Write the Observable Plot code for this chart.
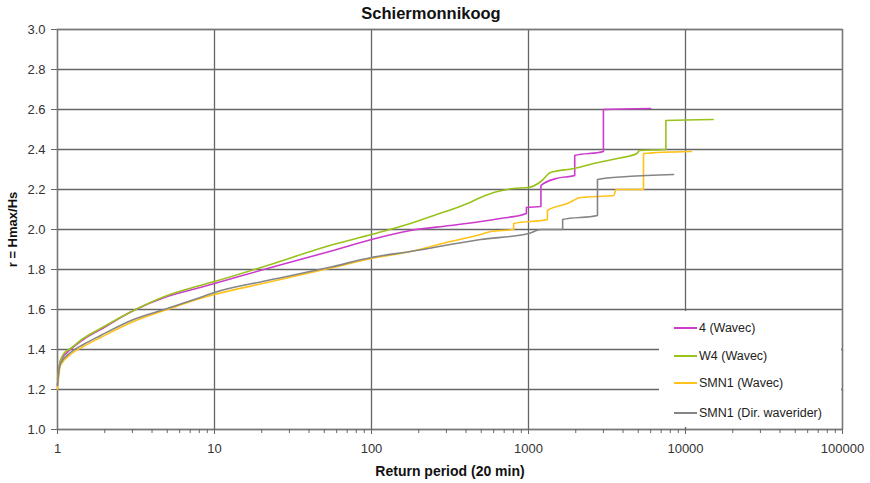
<!DOCTYPE html>
<html>
<head>
<meta charset="utf-8">
<script src="https://cdn.jsdelivr.net/npm/d3@7"></script>
<script src="https://cdn.jsdelivr.net/npm/@observablehq/plot@0.6"></script>
<style>
  body { margin: 0; background: #fff; font-family: "Liberation Sans", Arial, sans-serif; }
  #wrap { position: relative; width: 870px; height: 483px; overflow: hidden; }
  #title { position: absolute; left: 0; top: 0; height: 24px; width: 862px; text-align: center; font-weight: bold; font-size: 16.5px; line-height: 26px; color: #111; z-index: 2; }
  #legend { position: absolute; left: 659px; top: 311px; width: 182px; height: 116px; background: #fff; }
  .item { position: absolute; left: 15px; height: 16px; display: flex; align-items: center; font-size: 12.5px; color: #222; white-space: nowrap; }
  .swatch { width: 23px; height: 0; border-top: 2px solid; margin-right: 2px; }
  g[aria-label="x-axis label"] text { font-weight: bold; font-size: 14px; fill: #111; }
  g[aria-label="y-axis label"] text { font-weight: bold; font-size: 13px; fill: #111; }
</style>
</head>
<body>
<div id="wrap">
  <div id="title">Schiermonnikoog</div>
  <div id="chart"></div>
  <div id="legend"></div>
</div>
<script>
// ---- data ----
const seriesNames = ["4 (Wavec)", "W4 (Wavec)", "SMN1 (Wavec)", "SMN1 (Dir. waverider)"];
const seriesColors = ["#cc3ccc", "#99c21a", "#ffc21a", "#858585"];

const xTickValues = [1, 10, 100, 1000, 10000, 100000];
const yTickValues = [1.0, 1.2, 1.4, 1.6, 1.8, 2.0, 2.2, 2.4, 2.6, 2.8, 3.0];
const minorMultipliers = [2, 3, 4, 5, 6, 7, 8, 9];

// 4 (Wavec)
const periodA = [1, 1.02, 1.045, 1.21, 1.46, 1.88, 3.05, 5, 8.1, 10, 21.7, 57, 100, 177, 318, 495, 662, 970, 970, 1200, 1200, 1500, 1970, 1970, 3000, 3000, 6000];
const ratioA  = [1.22, 1.30, 1.345, 1.40, 1.45, 1.50, 1.595, 1.665, 1.71, 1.73, 1.805, 1.895, 1.95, 1.995, 2.02, 2.04, 2.055, 2.08, 2.11, 2.115, 2.22, 2.255, 2.27, 2.37, 2.39, 2.60, 2.605];

// W4 (Wavec)
const periodB = [1, 1.02, 1.045, 1.1, 1.21, 1.46, 1.88, 3.05, 5, 8.1, 10, 21.7, 57, 100, 177, 250, 409, 495, 635, 800, 1000, 1200, 1380, 1950, 2600, 3680, 4900, 5100, 7500, 7500, 15000];
const ratioB  = [1.25, 1.30, 1.345, 1.38, 1.405, 1.455, 1.505, 1.595, 1.67, 1.72, 1.74, 1.82, 1.925, 1.975, 2.03, 2.07, 2.13, 2.16, 2.19, 2.205, 2.21, 2.24, 2.285, 2.305, 2.33, 2.355, 2.38, 2.395, 2.40, 2.545, 2.55];

// SMN1 (Wavec)
const periodC = [1, 1.02, 1.045, 1.21, 1.46, 1.88, 3.05, 5, 8.1, 10, 21.7, 57, 100, 177, 300, 495, 575, 804, 804, 1320, 1320, 1770, 2150, 3500, 3600, 5400, 5400, 10900];
const ratioC  = [1.20, 1.27, 1.32, 1.375, 1.415, 1.46, 1.54, 1.60, 1.655, 1.675, 1.735, 1.81, 1.855, 1.89, 1.935, 1.975, 1.99, 2.0, 2.03, 2.05, 2.095, 2.13, 2.16, 2.17, 2.20, 2.20, 2.38, 2.39];

// SMN1 (Dir. waverider)
const periodD = [1, 1.02, 1.045, 1.21, 1.46, 1.88, 3.05, 5, 8.1, 10, 21.7, 57, 100, 177, 495, 1000, 1200, 1650, 1650, 2750, 2750, 4250, 8400];
const ratioD  = [1.22, 1.29, 1.33, 1.385, 1.425, 1.47, 1.55, 1.605, 1.66, 1.685, 1.745, 1.815, 1.86, 1.89, 1.95, 1.98, 2.0, 2.0, 2.05, 2.07, 2.25, 2.265, 2.275];

const periods = [periodA, periodB, periodC, periodD];
const ratios = [ratioA, ratioB, ratioC, ratioD];

const rows = seriesNames.flatMap((name, i) =>
  periods[i].map((t, j) => ({series: name, period: t, ratio: ratios[i][j]})));

const minorTicks = xTickValues.slice(0, -1).flatMap(d => minorMultipliers.map(k => k * d));

const gridStyle = {stroke: "#666", strokeOpacity: 1, strokeWidth: 1.3};

const chart = Plot.plot({
  width: 870,
  height: 483,
  marginTop: 29,
  marginLeft: 57,
  marginRight: 28,
  marginBottom: 54,
  style: {fontFamily: "'Liberation Sans', Arial, sans-serif", fontSize: "13px", color: "#333", background: "#fff"},
  x: {type: "log", domain: [1, 100000]},
  y: {domain: [1, 3]},
  color: {domain: seriesNames, range: seriesColors},
  marks: [
    Plot.gridX(xTickValues, gridStyle),
    Plot.gridY(yTickValues, gridStyle),
    Plot.frame({stroke: "#777", strokeWidth: 1.3}),
    Plot.axisX(minorTicks, {tickSize: 4, tickFormat: () => "", stroke: "#666", label: null}),
    Plot.axisX(xTickValues, {tickSize: 5, tickPadding: 9, tickFormat: d => String(d), stroke: "#666",
      label: "Return period (20 min)", labelAnchor: "center", labelArrow: "none", labelOffset: 46}),
    Plot.axisY(yTickValues, {tickSize: 6, tickPadding: 6, tickFormat: d3.format(".1f"), stroke: "#666",
      label: "r = Hmax/Hs", labelAnchor: "center", labelArrow: "none", labelOffset: 50}),
    Plot.line(rows, {x: "period", y: "ratio", z: "series", stroke: "series", strokeWidth: 1.6, curve: "monotone-x"})
  ]
});
document.getElementById("chart").appendChild(chart);

// legend (overlay box inside the plot area)
const legend = document.getElementById("legend");
const itemTops = [9, 37, 64, 94];
seriesNames.forEach((name, i) => {
  const item = document.createElement("div");
  item.className = "item";
  item.style.top = itemTops[i] + "px";
  const sw = document.createElement("span");
  sw.className = "swatch";
  sw.style.borderTopColor = seriesColors[i];
  const lab = document.createElement("span");
  lab.textContent = name;
  item.appendChild(sw);
  item.appendChild(lab);
  legend.appendChild(item);
});
</script>
</body>
</html>
